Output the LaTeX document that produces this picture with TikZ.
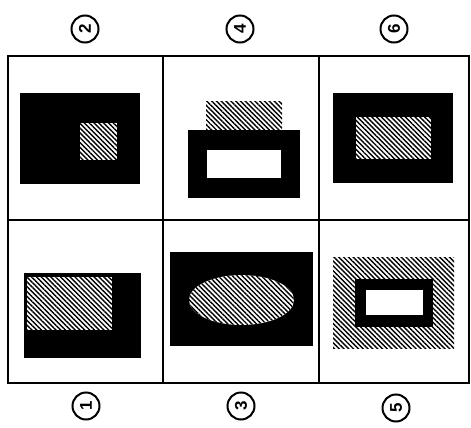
\documentclass[tikz,border=0pt]{standalone}
\usepackage{fontspec}
\setmainfont{Liberation Sans}
\usetikzlibrary{patterns.meta}
\begin{document}
\begin{tikzpicture}[x=1pt,y=-1pt,
  grid/.style={line width=2.2pt,black},
  solid/.style={fill=black},
  hatch/.style={fill=white,pattern={Lines[angle=-45,distance=3.4pt,line width=1.4pt]},pattern color=black},
  blank/.style={fill=white},
  num/.style={circle,draw,line width=2pt,minimum size=27pt,inner sep=0pt,font=\bfseries\fontsize{17}{17}\selectfont,rotate=90}]
\useasboundingbox (0,0) rectangle (471,428);
% grid
\draw[grid] (8,56) rectangle (469,383);
\draw[grid] (163,56) -- (163,383);
\draw[grid] (319,56) -- (319,383);
\draw[grid] (8,220) -- (469,220);
% cell 2
\fill[solid] (20,93) rectangle (140,184);
\fill[blank] (80,123) rectangle (117,160);
\fill[hatch] (80,123) rectangle (117,160);
% cell 4
\fill[blank] (206,101) rectangle (282,131);
\fill[hatch] (206,101) rectangle (282,131);
\fill[solid] (188,130) rectangle (300,198);
\fill[blank] (207,150) rectangle (281,178);
% cell 6
\fill[solid] (333,93) rectangle (453,183);
\fill[blank] (356,117) rectangle (431,159);
\fill[hatch] (356,117) rectangle (431,159);
% cell 1
\fill[solid] (24,273) rectangle (141,358);
\fill[blank] (27,277) rectangle (112,330);
\fill[hatch] (27,277) rectangle (112,330);
% cell 3
\fill[solid] (170,252) rectangle (313,346);
\fill[blank] (241.5,300) ellipse [x radius=52.5,y radius=25];
\fill[hatch] (241.5,300) ellipse [x radius=52.5,y radius=25];
% cell 5
\fill[blank] (333,257) rectangle (454,348);
\fill[hatch] (333,257) rectangle (454,348);
\fill[solid] (355,279) rectangle (433,327);
\fill[blank] (366,290) rectangle (423,315);
% labels
\node[num] (n2) at (85,29) {2};
\node[num] (n4) at (240,29) {4};
\node[num] (n6) at (394,29) {6};
\node[num] (n1) at (86,406) {1};
\node[num] (n3) at (241,406) {3};
\node[num] (n5) at (396,408) {5};
\end{tikzpicture}
\end{document}
